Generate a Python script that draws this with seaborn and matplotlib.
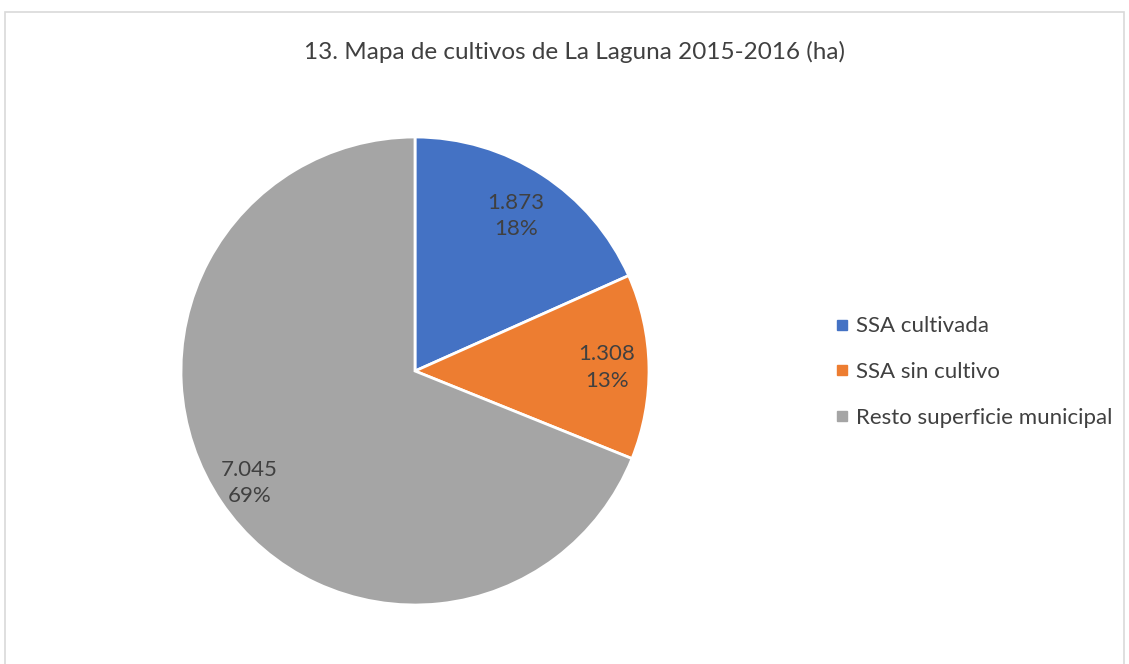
import matplotlib
matplotlib.use("Agg")
import matplotlib.pyplot as plt
from matplotlib.lines import Line2D
from matplotlib.patches import Rectangle
import seaborn as sns
import numpy as np

categories = ["SSA cultivada", "SSA sin cultivo", "Resto superficie municipal"]
values = [1873, 1308, 7045]
title = "13. Mapa de cultivos de La Laguna 2015-2016 (ha)"
colors = sns.color_palette(["#4472C4", "#ED7D31", "#A5A5A5"])
label_dist = [0.79, 0.82, 0.855]

sns.set_theme(style="white")
plt.rcParams["font.family"] = ["Lato", "DejaVu Sans"]
text_color = "#404040"

W, H = 1129, 664
fig = plt.figure(figsize=(W / 100, H / 100), dpi=100)
fig.patch.set_facecolor("white")

# outer frame
fig.patches.append(Rectangle((5 / W, -0.01), (1124 - 5) / W, 1 - 12 / H + 0.01,
                             transform=fig.transFigure, fill=False,
                             edgecolor="#D9D9D9", linewidth=1.2))

cx, cy, r = 415, 371, 234
ax = fig.add_axes([(cx - r) / W, (H - cy - r) / H, 2 * r / W, 2 * r / H])
wedges, _ = ax.pie(values, colors=colors, startangle=90, counterclock=False,
                   radius=1, wedgeprops=dict(edgecolor="white", linewidth=2))
ax.set_xlim(-1, 1)
ax.set_ylim(-1, 1)
ax.set_aspect("equal")
ax.axis("off")

total = sum(values)
for w, v, d in zip(wedges, values, label_dist):
    ang = np.deg2rad((w.theta1 + w.theta2) / 2)
    pct = round(100 * v / total)
    lbl = f"{v:,}".replace(",", ".") + f"\n{pct}%"
    ax.text(d * np.cos(ang), d * np.sin(ang), lbl, ha="center", va="center",
            fontsize=16, color=text_color, linespacing=1.4)

fig.text(574 / W, 1 - 52 / H, title, ha="center", va="center",
         fontsize=17.5, color=text_color)

handles = [Line2D([], [], marker="s", linestyle="none", markersize=7,
                  markerfacecolor=c, markeredgecolor=c) for c in colors]
leg = fig.legend(handles, categories, loc="center left",
                 bbox_to_anchor=(833 / W, 1 - 372 / H), frameon=False,
                 fontsize=16, labelspacing=1.15, handletextpad=0.25,
                 handlelength=0.8, borderaxespad=0, borderpad=0)
for t in leg.get_texts():
    t.set_color(text_color)

fig.savefig("out.png", dpi=100, facecolor="white")
